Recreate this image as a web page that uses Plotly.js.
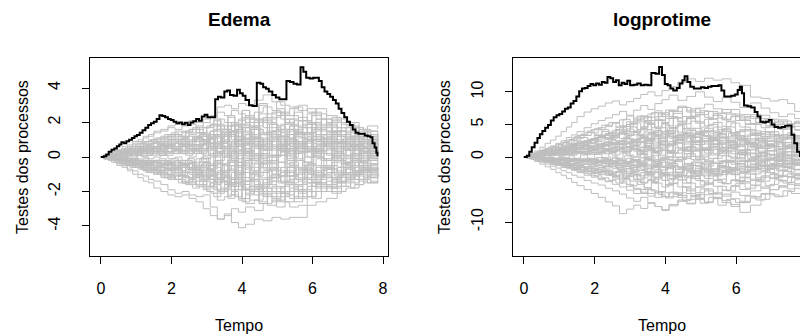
<!DOCTYPE html>
<html><head><meta charset="utf-8">
<script src="https://cdn.plot.ly/plotly-3.0.1.min.js"></script>
<style>html,body{margin:0;padding:0;overflow:hidden;background:#fff}#chart{width:844px;height:335px}</style>
</head><body><div id="chart"></div>
<script>
// ---------- data ----------
const panelTitles = ["Edema", "logprotime"];
const xTicks = [0, 2, 4, 6, 8];
const xTickTextLeft = ["0", "2", "4", "6", "8"];
const xTickTextRight = ["0", "2", "4", "6", ""];
const yTicksEdema = [-4, -2, 0, 2, 4];
const yTickTextEdema = ["-4", "-2", "0", "2", "4"];
const yTicksLogpro = [-10, -5, 0, 5, 10];
const yTickTextLogpro = ["-10", "", "0", "5", "10"];

// time grids of the simulated processes
const tgridA = [0,0.15,0.3,0.45,0.6,0.75,0.9,1.05,1.2,1.35,1.5,1.7,1.9,2.1,2.3,2.5,2.7,2.9,3.1,3.3,3.5,3.7,3.9,4.1,4.35,4.6,4.85,5.1,5.35,5.6,5.85,6.1,6.4,6.7,6.95,7.2,7.45,7.65,7.85];
const tgridB = [0,0.08,0.22,0.38,0.52,0.68,0.82,0.98,1.12,1.28,1.42,1.6,1.8,2.0,2.2,2.4,2.6,2.8,3.0,3.2,3.4,3.6,3.8,4.0,4.22,4.48,4.72,4.98,5.22,5.48,5.72,5.98,6.25,6.55,6.82,7.08,7.32,7.56,7.85];
const tgridC = [0,0.11,0.26,0.41,0.57,0.72,0.87,1.02,1.16,1.31,1.46,1.65,1.85,2.05,2.25,2.45,2.65,2.85,3.05,3.25,3.45,3.65,3.85,4.05,4.28,4.53,4.78,5.03,5.28,5.53,5.78,6.03,6.32,6.62,6.88,7.14,7.38,7.6,7.85];

// observed process, Edema
const edemaObsT = [0,0.08,0.15,0.22,0.30,0.38,0.45,0.52,0.58,0.65,0.72,0.80,0.88,0.95,1.02,1.10,1.18,1.26,1.34,1.42,1.50,1.58,1.66,1.74,1.82,1.90,1.98,2.06,2.14,2.22,2.30,2.38,2.46,2.54,2.62,2.70,2.78,2.86,2.94,3.02,3.10,3.24,3.32,3.40,3.50,3.58,3.66,3.76,3.86,3.94,4.02,4.10,4.20,4.30,4.42,4.52,4.60,4.68,4.76,4.86,4.96,5.06,5.16,5.26,5.36,5.46,5.56,5.66,5.74,5.82,5.92,6.02,6.10,6.18,6.26,6.34,6.42,6.50,6.58,6.66,6.74,6.82,6.90,6.98,7.06,7.14,7.22,7.30,7.40,7.48,7.56,7.64,7.70,7.76,7.81,7.84];
const edemaObsV = [0,0.05,0.15,0.30,0.42,0.50,0.62,0.72,0.85,0.80,0.92,1.00,1.10,1.20,1.28,1.40,1.55,1.70,1.85,1.95,2.05,2.20,2.42,2.38,2.30,2.20,2.15,2.05,1.95,2.00,1.90,1.98,1.85,2.00,2.08,2.20,2.10,2.35,2.45,2.30,2.30,3.35,3.50,3.45,3.80,3.85,3.60,3.55,3.90,3.70,3.55,3.30,3.00,2.95,4.30,4.25,4.05,3.95,3.80,3.60,3.45,3.35,3.35,4.40,4.35,4.25,4.20,5.20,4.95,4.60,4.55,4.60,4.60,4.40,4.05,3.80,3.65,3.50,3.30,3.10,2.80,2.55,2.30,2.05,1.85,1.60,1.40,1.35,1.35,1.25,1.20,1.15,0.80,0.55,0.25,0.05];

// simulated processes, Edema (on tgridA)
const edemaSimsA = [
[0,0.1,0.3,0.4,0.6,0.7,0.9,1.0,1.2,1.3,1.5,1.6,1.8,1.9,2.0,2.1,2.0,2.2,2.4,2.9,3.0,2.8,3.1,3.0,3.3,3.6,3.2,3.0,2.9,2.7,2.8,2.5,2.2,2.0,1.8,1.7,1.6,1.5,1.5],
[0,-0.1,-0.3,-0.5,-0.6,-0.8,-1.0,-1.2,-1.4,-1.5,-1.8,-2.0,-2.2,-2.3,-2.2,-2.4,-2.6,-3.0,-3.4,-3.6,-3.3,-3.8,-4.1,-3.9,-3.6,-3.7,-3.5,-3.6,-3.5,-3.5,-2.8,-2.6,-2.4,-2.0,-1.8,-1.6,-1.5,-1.4,-1.4],
[0,-0.1,-0.2,-0.4,-0.5,-0.7,-0.8,-1.0,-1.1,-1.3,-1.4,-1.6,-1.9,-2.1,-2.0,-2.2,-2.3,-2.2,-2.9,-3.6,-3.4,-3.0,-3.2,-2.9,-3.1,-2.7,-2.5,-2.6,-2.9,-2.8,-2.3,-2.0,-1.6,-1.2,-1.0,-0.8,-0.9,-0.7,-0.6],
[0,0.1,0.2,0.4,0.5,0.6,0.8,0.9,1.1,1.2,1.4,1.5,1.7,1.6,1.8,1.9,1.7,2.0,2.3,2.6,2.4,2.7,2.5,2.2,2.6,2.9,2.7,2.5,2.8,3.0,2.6,2.2,2.0,1.7,1.4,1.2,1.0,1.1,0.9],
[0,0.0,0.1,0.2,0.3,0.5,0.5,0.6,0.8,0.9,1.0,1.2,1.3,1.5,1.4,1.6,1.8,1.7,1.9,2.2,2.0,1.8,2.1,2.4,2.2,2.0,2.3,2.6,2.4,2.1,2.5,2.8,2.4,2.2,2.0,1.7,1.5,1.3,1.2],
[0,0.0,-0.1,-0.1,-0.2,-0.3,-0.4,-0.6,-0.5,-0.7,-0.8,-1.0,-1.1,-1.3,-1.5,-1.4,-1.7,-1.9,-2.1,-2.5,-2.3,-2.0,-2.4,-2.7,-2.5,-2.2,-2.4,-2.0,-1.8,-2.1,-1.7,-1.5,-1.8,-1.4,-1.2,-1.3,-1.1,-1.0,-1.2],
[0,0.1,0.1,0.2,0.3,0.3,0.4,0.5,0.6,0.6,0.8,0.9,1.0,1.2,1.1,1.3,1.4,1.2,1.5,1.8,1.6,1.9,2.2,1.8,2.1,1.7,1.5,1.9,2.2,1.8,2.0,1.6,1.3,1.5,1.1,0.9,0.7,0.8,0.6],
[0,-0.1,-0.1,-0.2,-0.3,-0.4,-0.5,-0.5,-0.7,-0.8,-0.9,-1.1,-1.2,-1.3,-1.2,-1.5,-1.6,-1.4,-1.8,-2.1,-1.9,-2.2,-2.5,-2.1,-1.8,-2.0,-2.3,-2.1,-1.6,-1.9,-1.5,-1.8,-1.4,-1.1,-1.3,-1.0,-0.8,-0.9,-0.7],
[0,0.0,0.1,0.1,0.2,0.2,0.3,0.2,0.4,0.5,0.4,0.6,0.7,0.6,0.8,0.9,0.7,1.0,1.3,1.1,1.4,1.2,0.9,1.3,1.6,1.4,1.1,1.5,1.8,1.4,1.7,1.3,1.0,1.2,0.9,0.7,0.9,0.6,0.5],
[0,0.0,-0.1,-0.1,-0.1,-0.2,-0.2,-0.3,-0.3,-0.4,-0.5,-0.4,-0.6,-0.7,-0.6,-0.8,-0.9,-0.7,-1.0,-1.3,-1.1,-1.5,-1.2,-0.9,-1.3,-1.6,-1.4,-1.1,-1.5,-1.2,-0.8,-1.1,-0.7,-0.9,-0.6,-0.8,-0.5,-0.7,-0.6],
[0,0.1,0.1,0.2,0.2,0.3,0.4,0.4,0.5,0.6,0.5,0.7,0.8,0.9,0.7,0.9,1.1,1.0,0.8,1.2,0.9,0.6,1.0,1.3,0.9,0.6,0.9,1.2,0.8,0.5,1.0,1.3,0.9,0.6,0.8,0.5,0.3,0.4,0.2],
[0,-0.1,-0.1,-0.2,-0.2,-0.3,-0.3,-0.4,-0.5,-0.4,-0.6,-0.7,-0.8,-0.7,-0.9,-1.0,-0.8,-1.1,-1.3,-1.0,-1.4,-1.7,-1.4,-1.9,-2.2,-1.8,-2.0,-1.7,-2.0,-1.6,-1.3,-1.5,-1.2,-1.5,-1.3,-1.1,-1.3,-1.2,-1.0],
[0,0.0,0.1,0.1,0.2,0.1,0.2,0.3,0.3,0.2,0.3,0.4,0.3,0.5,0.6,0.4,0.6,0.8,0.5,0.2,0.5,0.8,0.4,0.1,0.5,0.8,0.4,0.7,1.0,0.7,0.3,0.6,0.9,0.5,0.7,0.4,0.6,0.3,0.4],
[0,0.0,0.0,-0.1,0.0,-0.1,-0.1,-0.2,-0.1,-0.2,-0.3,-0.2,-0.4,-0.3,-0.5,-0.4,-0.6,-0.3,-0.7,-0.4,-0.8,-0.5,-0.9,-0.6,-0.3,-0.7,-1.0,-0.6,-0.3,-0.7,-0.4,-0.1,-0.5,-0.2,-0.5,-0.3,-0.6,-0.4,-0.5],
[0,0.1,0.2,0.3,0.4,0.5,0.7,0.8,0.9,1.0,1.1,1.0,1.2,1.3,1.2,1.4,1.6,1.3,1.5,1.9,1.6,2.0,1.7,1.4,1.8,2.1,1.7,1.4,1.8,1.4,1.9,2.2,1.8,1.5,1.7,1.3,1.4,1.2,1.0],
[0,-0.1,-0.2,-0.3,-0.3,-0.5,-0.6,-0.7,-0.8,-0.9,-1.0,-1.2,-1.3,-1.1,-1.4,-1.6,-1.4,-1.7,-1.5,-1.2,-1.6,-1.9,-1.5,-1.2,-1.7,-1.3,-1.0,-1.4,-1.1,-0.7,-1.0,-0.6,-0.9,-0.6,-0.3,-0.5,-0.2,-0.4,-0.3],
[0,0.0,0.1,0.1,0.1,0.2,0.2,0.3,0.2,0.4,0.5,0.3,0.5,0.4,0.2,0.4,0.3,0.1,0.4,0.7,0.3,0.0,0.4,0.7,1.0,0.6,0.9,0.5,0.2,0.6,1.0,0.7,1.1,0.8,1.0,0.7,0.9,0.8,0.7],
[0,0.0,-0.1,-0.1,-0.2,-0.2,-0.3,-0.2,-0.4,-0.3,-0.5,-0.6,-0.4,-0.7,-0.9,-0.7,-1.0,-1.2,-0.9,-1.3,-1.6,-1.3,-1.0,-1.4,-1.1,-0.8,-1.2,-1.5,-1.1,-1.4,-1.0,-1.3,-0.9,-0.6,-0.9,-0.6,-0.8,-0.6,-0.8],
[0,0.1,0.1,0.2,0.3,0.4,0.3,0.5,0.6,0.7,0.6,0.8,1.0,0.9,1.1,1.0,1.2,1.4,1.1,0.8,1.2,1.5,1.1,0.8,1.1,0.7,1.0,0.7,0.4,0.8,0.4,0.7,0.4,0.1,0.4,0.1,0.3,0.0,0.1],
[0,0.0,0.0,0.1,0.0,0.1,0.0,0.1,0.0,-0.1,0.0,0.1,-0.1,0.0,-0.2,0.0,0.2,-0.1,0.2,0.5,0.2,-0.2,0.1,0.4,0.1,-0.3,0.1,0.4,0.0,0.3,0.6,0.3,0.5,0.2,0.4,0.2,0.3,0.1,0.2],
[0,-0.1,-0.1,-0.2,-0.3,-0.3,-0.4,-0.5,-0.6,-0.6,-0.7,-0.9,-1.0,-0.9,-1.1,-1.3,-1.1,-1.4,-1.7,-2.0,-1.8,-1.5,-1.9,-2.2,-1.9,-2.3,-2.6,-2.3,-2.0,-2.4,-2.0,-1.6,-2.0,-1.7,-1.4,-1.6,-1.3,-1.5,-1.4],
[0,0.1,0.2,0.3,0.3,0.4,0.5,0.6,0.7,0.8,0.9,1.1,1.2,1.3,1.5,1.6,1.4,1.7,1.9,1.6,1.8,1.5,1.8,2.0,1.6,1.3,1.5,1.2,1.5,1.1,1.4,1.1,1.4,1.2,0.9,1.1,0.8,1.0,0.8],
[0,0.0,-0.1,-0.2,-0.3,-0.3,-0.4,-0.4,-0.5,-0.6,-0.7,-0.8,-0.7,-0.9,-1.1,-1.2,-1.0,-1.3,-1.1,-0.8,-1.2,-0.9,-0.5,-0.9,-0.6,-0.2,-0.6,-0.9,-0.5,-0.8,-0.4,-0.8,-0.5,-0.8,-1.1,-0.8,-1.0,-0.8,-0.9],
[0,0.0,0.1,0.1,0.2,0.3,0.3,0.4,0.5,0.5,0.6,0.5,0.7,0.8,1.0,0.9,1.1,0.9,1.2,1.5,1.2,1.5,1.9,2.3,2.0,2.3,2.6,2.2,1.9,2.3,1.9,1.6,1.9,1.5,1.2,1.0,1.2,1.0,1.1],
[0,0.0,0.0,-0.1,-0.1,-0.2,-0.1,-0.2,-0.3,-0.2,-0.3,-0.4,-0.3,-0.5,-0.4,-0.6,-0.8,-0.6,-0.9,-1.2,-1.5,-1.2,-1.6,-1.9,-1.6,-2.0,-1.7,-2.1,-2.4,-2.0,-2.3,-2.0,-1.7,-1.4,-1.2,-1.0,-1.2,-1.0,-1.1],
[0,0.1,0.1,0.1,0.2,0.2,0.3,0.3,0.4,0.3,0.5,0.6,0.5,0.4,0.6,0.7,0.5,0.8,0.6,0.3,0.6,0.9,1.2,0.9,0.6,0.9,1.3,1.6,1.3,1.7,1.4,1.8,1.5,1.2,0.9,0.7,0.5,0.6,0.4],
[0,-0.1,-0.1,-0.2,-0.2,-0.3,-0.4,-0.5,-0.4,-0.5,-0.6,-0.5,-0.7,-0.6,-0.4,-0.6,-0.5,-0.3,-0.5,-0.2,0.1,-0.2,-0.5,-0.2,0.1,0.4,0.0,0.3,0.6,0.3,0.0,0.4,0.1,-0.2,0.1,-0.1,0.1,-0.1,0.0],
[0,0.1,0.1,0.2,0.2,0.3,0.3,0.4,0.5,0.4,0.6,0.7,0.6,0.8,0.7,0.9,1.1,0.9,0.6,0.9,1.2,1.0,0.7,1.0,0.7,0.4,0.7,0.3,0.6,0.9,0.5,0.2,0.5,0.8,0.6,0.4,0.6,0.5,0.3],
[0,0.0,-0.1,-0.1,-0.2,-0.1,-0.2,-0.3,-0.2,-0.3,-0.2,-0.4,-0.3,-0.2,-0.4,-0.3,-0.1,-0.3,0.0,0.3,0.0,0.3,0.6,0.3,0.7,1.0,0.6,0.9,0.5,0.8,1.2,0.9,1.2,0.9,0.6,0.8,0.5,0.7,0.5],
[0,-0.1,-0.2,-0.2,-0.4,-0.5,-0.6,-0.6,-0.8,-0.9,-1.0,-0.9,-1.1,-1.3,-1.5,-1.3,-1.6,-1.8,-1.5,-1.9,-1.6,-1.3,-1.7,-1.4,-1.8,-1.5,-1.2,-0.9,-1.3,-0.9,-1.3,-1.0,-0.7,-1.0,-0.7,-0.5,-0.7,-0.5,-0.4]
];

// simulated processes, Edema (on tgridB)
const edemaSimsB = [
[0,0.1,0.2,0.2,0.4,0.5,0.4,0.6,0.7,0.6,0.8,0.9,0.7,1.0,1.2,0.9,1.1,1.4,1.1,1.8,1.3,2.0,1.5,2.3,1.7,2.5,1.9,2.6,2.0,1.4,2.1,1.6,2.2,1.5,1.9,1.2,1.6,1.0,1.3],
[0,-0.1,-0.1,-0.3,-0.2,-0.4,-0.5,-0.4,-0.6,-0.7,-0.5,-0.8,-1.0,-0.8,-1.1,-0.9,-1.2,-0.9,-1.3,-0.6,-1.4,-0.7,-1.5,-0.5,-1.3,-0.4,-1.2,-0.3,-1.1,-0.2,-0.9,-1.5,-0.6,-1.2,-0.4,-0.9,-0.3,-0.7,-0.5],
[0,0.0,0.1,0.0,0.2,0.1,0.3,0.2,0.4,0.3,0.5,0.3,0.6,0.4,0.7,0.5,0.3,0.8,0.4,1.2,0.5,1.3,0.2,1.1,-0.2,0.9,-0.3,1.0,0.1,1.4,0.3,1.5,0.6,1.3,0.4,1.1,0.2,0.8,0.5],
[0,-0.1,0.0,-0.2,-0.1,-0.3,-0.2,-0.4,-0.3,-0.5,-0.3,-0.6,-0.4,-0.7,-0.5,-0.9,-0.6,-1.1,-0.7,-1.6,-0.8,-1.7,-0.9,-1.9,-1.0,-2.1,-1.2,-1.8,-0.8,-1.6,-0.6,-1.4,-0.5,-1.2,-0.4,-1.0,-0.3,-0.8,-0.6],
[0,0.1,0.2,0.3,0.3,0.5,0.6,0.5,0.8,0.9,1.0,0.8,1.1,1.3,1.0,1.4,1.6,1.2,1.7,2.1,1.4,2.3,1.6,2.7,1.8,3.1,2.0,2.8,1.9,2.6,1.7,2.4,1.5,2.1,1.3,1.8,1.1,1.5,1.2],
[0,0.0,-0.1,-0.1,-0.2,-0.2,-0.3,-0.2,-0.4,-0.3,-0.5,-0.4,-0.2,-0.5,-0.3,-0.6,-0.4,-0.1,-0.5,0.3,-0.4,0.5,-0.3,0.7,-0.1,0.9,0.0,1.1,0.2,1.3,0.3,1.0,-0.2,0.8,-0.1,0.6,-0.3,0.4,0.1],
[0,0.1,0.1,0.2,0.3,0.2,0.4,0.5,0.4,0.6,0.5,0.7,0.9,0.6,1.0,0.8,1.2,0.9,1.3,0.7,1.6,0.9,1.9,1.1,2.2,1.3,2.5,1.6,2.2,1.2,1.9,1.0,1.7,0.8,1.5,0.7,1.2,0.6,0.9],
[0,-0.1,-0.2,-0.2,-0.4,-0.5,-0.6,-0.5,-0.7,-0.9,-0.8,-1.0,-1.2,-1.0,-1.3,-1.5,-1.2,-1.6,-1.3,-1.9,-1.4,-2.2,-1.5,-2.4,-1.7,-2.6,-1.8,-2.5,-1.6,-2.3,-1.5,-2.0,-1.2,-1.8,-1.0,-1.5,-0.8,-1.2,-1.0],
[0,0.0,0.1,0.1,0.1,0.2,0.1,0.3,0.2,0.4,0.2,0.5,0.3,0.6,0.2,0.7,0.4,0.9,0.5,1.3,0.6,1.5,0.8,1.7,0.9,2.0,1.1,1.8,0.9,1.6,0.6,1.9,0.8,1.5,0.5,1.2,0.4,0.9,0.7],
[0,0.0,-0.1,0.0,-0.1,-0.2,-0.1,-0.3,-0.2,-0.4,-0.2,-0.5,-0.3,-0.1,-0.4,-0.2,-0.5,-0.3,-0.7,-0.2,-0.9,-0.3,-1.1,-0.4,-1.3,-0.6,-1.6,-0.8,-1.4,-0.6,-1.2,-0.5,-1.0,-0.3,-0.9,-0.2,-0.7,-0.4,-0.3],
[0,0.1,0.2,0.2,0.3,0.4,0.5,0.6,0.5,0.7,0.8,0.7,0.9,1.1,0.9,1.2,1.0,1.3,1.1,1.6,1.0,1.8,1.2,1.9,1.3,2.2,1.4,2.4,1.6,2.1,1.3,2.0,1.1,1.7,1.0,1.5,0.8,1.3,1.0],
[0,-0.1,-0.1,-0.2,-0.3,-0.3,-0.4,-0.5,-0.6,-0.5,-0.7,-0.8,-0.7,-0.9,-1.1,-1.2,-1.0,-1.4,-1.7,-1.3,-2.0,-1.5,-2.3,-1.6,-2.5,-1.8,-2.8,-2.0,-2.6,-1.7,-2.3,-1.5,-2.0,-1.3,-1.7,-1.1,-1.4,-0.9,-1.2],
[0,0.0,0.0,0.1,0.1,0.0,0.2,0.1,0.3,0.2,0.1,0.3,0.2,0.4,0.3,0.1,0.4,0.2,0.6,0.0,0.8,0.1,1.0,0.2,1.2,0.4,1.5,0.6,1.3,0.4,1.1,0.3,0.9,0.1,0.8,0.0,0.6,0.2,0.3],
[0,-0.1,-0.1,-0.2,-0.1,-0.3,-0.2,-0.4,-0.5,-0.4,-0.6,-0.5,-0.7,-0.6,-0.8,-0.7,-0.9,-0.6,-1.0,-0.4,-1.1,-0.5,-1.2,-0.3,-1.0,-0.1,-0.8,0.1,-0.6,0.3,-0.5,0.2,-0.7,0.0,-0.6,-0.1,-0.5,-0.2,-0.3],
[0,0.1,0.2,0.3,0.4,0.5,0.5,0.7,0.8,0.9,1.0,1.1,1.3,1.4,1.2,1.5,1.7,1.4,1.8,2.2,1.6,2.4,1.8,2.7,2.0,3.0,2.2,3.2,2.4,2.9,2.1,2.6,1.9,2.3,1.7,2.0,1.5,1.8,1.6],
[0,0.0,-0.1,-0.2,-0.2,-0.3,-0.4,-0.4,-0.5,-0.6,-0.7,-0.6,-0.8,-0.9,-1.0,-0.9,-1.1,-1.3,-1.1,-1.4,-1.0,-1.6,-1.2,-1.8,-1.3,-2.0,-1.4,-2.1,-1.5,-1.9,-1.3,-1.7,-1.1,-1.5,-1.0,-1.3,-0.9,-1.1,-0.8],
[0,0.1,0.1,0.1,0.2,0.3,0.2,0.3,0.4,0.3,0.5,0.4,0.6,0.5,0.7,0.6,0.9,0.7,1.0,0.5,1.2,0.6,1.4,0.8,1.6,0.7,1.3,0.5,1.1,0.2,0.9,0.1,0.7,0.0,0.5,-0.1,0.3,0.0,0.2],
[0,0.0,-0.1,-0.1,-0.2,-0.1,-0.3,-0.2,-0.3,-0.4,-0.3,-0.5,-0.4,-0.6,-0.5,-0.4,-0.7,-0.5,-0.8,-0.3,-0.9,-0.2,-1.0,0.0,-0.8,0.2,-0.6,0.4,-0.4,0.6,-0.3,0.5,-0.2,0.4,-0.3,0.2,-0.2,0.1,0.0],
[0,0.1,0.1,0.2,0.2,0.3,0.4,0.3,0.5,0.4,0.6,0.7,0.5,0.8,0.6,0.9,0.7,1.0,0.8,1.3,0.9,1.5,1.0,1.7,1.1,1.4,0.9,1.2,0.7,1.5,0.8,1.7,1.0,1.4,0.8,1.2,0.6,1.0,0.8],
[0,-0.1,-0.2,-0.3,-0.3,-0.4,-0.5,-0.6,-0.7,-0.8,-0.9,-1.0,-1.2,-1.3,-1.5,-1.6,-1.8,-1.6,-2.0,-2.3,-1.8,-2.4,-1.9,-2.6,-2.0,-2.7,-2.1,-2.9,-2.2,-2.6,-1.9,-2.4,-1.7,-2.1,-1.5,-1.8,-1.3,-1.5,-1.2]
];

// simulated processes, Edema (on tgridC)
const edemaSimsC = [
[0,0.0,0.1,0.1,0.2,0.1,0.2,0.3,0.2,0.3,0.4,0.3,0.5,0.4,0.6,0.5,0.7,0.4,0.8,0.3,0.9,0.4,1.0,0.3,0.8,0.2,0.9,0.4,1.1,0.5,0.9,0.3,0.7,0.2,0.6,0.1,0.5,0.2,0.4],
[0,0.0,-0.1,0.0,-0.1,-0.2,-0.1,-0.2,-0.3,-0.2,-0.4,-0.3,-0.5,-0.4,-0.6,-0.3,-0.7,-0.4,-0.8,-0.2,-0.9,-0.3,-1.0,-0.1,-0.8,0.0,-0.7,0.1,-0.9,-0.2,-0.7,0.0,-0.5,-0.1,-0.6,-0.2,-0.4,-0.1,-0.3],
[0,0.1,0.1,0.2,0.2,0.3,0.3,0.4,0.4,0.5,0.6,0.5,0.7,0.6,0.8,0.7,0.9,1.0,0.8,1.2,0.9,1.4,1.0,1.5,1.1,1.3,0.9,1.2,0.8,1.4,1.0,1.2,0.8,1.0,0.7,0.9,0.6,0.8,0.7],
[0,-0.1,-0.1,-0.2,-0.2,-0.3,-0.3,-0.4,-0.4,-0.5,-0.5,-0.6,-0.7,-0.6,-0.8,-0.9,-0.7,-1.0,-0.8,-1.2,-0.9,-1.3,-0.8,-1.4,-0.9,-1.2,-0.7,-1.1,-0.6,-1.0,-0.5,-0.9,-0.6,-1.0,-0.7,-0.9,-0.6,-0.8,-0.7],
[0,0.0,0.0,0.1,0.0,0.1,0.2,0.1,0.2,0.1,0.3,0.2,0.1,0.3,0.2,0.4,0.2,0.5,0.1,0.6,0.0,0.7,-0.1,0.8,0.0,0.9,0.1,0.6,-0.2,0.5,-0.3,0.4,-0.1,0.6,0.0,0.5,-0.1,0.3,0.0],
[0,0.0,-0.1,-0.1,0.0,-0.1,-0.2,-0.1,-0.2,-0.3,-0.2,-0.1,-0.3,-0.2,-0.4,-0.1,-0.3,0.0,-0.4,0.1,-0.5,0.2,-0.6,0.3,-0.4,0.5,-0.2,0.6,-0.1,0.7,0.0,0.5,-0.2,0.3,-0.3,0.2,-0.2,0.1,-0.1],
[0,0.1,0.2,0.2,0.3,0.4,0.5,0.5,0.6,0.7,0.8,0.9,0.8,1.0,1.1,0.9,1.2,1.0,1.3,0.8,1.5,0.9,1.6,1.0,1.7,1.1,1.9,1.2,1.6,0.9,1.4,0.8,1.3,0.7,1.1,0.6,1.0,0.7,0.8],
[0,-0.1,-0.2,-0.2,-0.3,-0.4,-0.5,-0.5,-0.6,-0.7,-0.8,-0.9,-1.0,-1.1,-0.9,-1.2,-1.0,-1.3,-1.1,-1.5,-1.2,-1.7,-1.3,-1.9,-1.4,-1.7,-1.1,-1.5,-0.9,-1.3,-0.8,-1.2,-0.7,-1.1,-0.6,-1.0,-0.7,-0.9,-0.8],
[0,0.0,0.1,0.0,0.1,0.2,0.1,0.2,0.1,0.2,0.3,0.1,0.3,0.2,0.4,0.2,0.5,0.3,0.6,0.2,0.4,-0.1,0.3,-0.2,0.2,-0.4,0.1,-0.3,0.3,-0.1,0.4,0.0,0.2,-0.2,0.1,-0.3,0.0,-0.2,-0.1],
[0,0.0,-0.1,0.0,-0.1,0.0,-0.1,0.1,0.0,0.1,0.2,0.1,0.3,0.2,0.4,0.3,0.5,0.4,0.7,0.5,0.8,0.4,0.9,0.5,1.1,0.6,1.2,0.7,1.0,0.5,0.9,0.4,0.8,0.3,0.6,0.2,0.5,0.3,0.4],
[0,-0.1,-0.1,-0.2,-0.1,-0.2,-0.3,-0.2,-0.3,-0.4,-0.3,-0.5,-0.4,-0.6,-0.5,-0.7,-0.6,-0.8,-0.5,-0.9,-0.4,-0.8,-0.3,-0.7,-0.2,-0.9,-0.4,-1.1,-0.6,-1.3,-0.7,-1.1,-0.5,-0.9,-0.4,-0.8,-0.5,-0.7,-0.6],
[0,0.1,0.1,0.2,0.3,0.2,0.3,0.4,0.3,0.4,0.5,0.4,0.6,0.5,0.3,0.6,0.4,0.7,0.5,0.2,0.6,0.3,0.7,0.2,0.6,0.1,0.5,0.8,0.4,0.9,0.5,1.0,0.6,0.8,0.4,0.6,0.3,0.5,0.3]
];

// observed process, logprotime
const logproObsT = [0.00,0.08,0.15,0.22,0.30,0.38,0.45,0.52,0.60,0.68,0.76,0.84,0.92,1.00,1.08,1.16,1.24,1.32,1.40,1.48,1.56,1.64,1.72,1.80,1.88,1.96,2.04,2.12,2.20,2.28,2.36,2.44,2.52,2.60,2.68,2.76,2.84,2.92,3.00,3.10,3.20,3.30,3.40,3.50,3.60,3.72,3.82,3.90,3.98,4.06,4.14,4.22,4.32,4.40,4.48,4.54,4.62,4.70,4.80,4.90,5.00,5.10,5.20,5.30,5.40,5.50,5.58,5.66,5.76,5.86,5.96,6.04,6.10,6.16,6.22,6.32,6.42,6.52,6.60,6.68,6.76,6.84,6.92,7.00,7.08,7.18,7.28,7.38,7.46,7.56,7.64,7.72,7.80];
const logproObsV = [0.00,0.20,0.80,1.50,2.20,2.90,3.50,4.00,4.50,4.90,5.60,6.10,6.40,6.60,7.00,7.40,7.60,8.20,8.60,9.30,10.10,10.50,10.60,10.90,11.20,11.00,11.30,11.10,11.50,11.40,12.30,12.10,11.50,11.80,11.00,11.40,11.20,11.70,11.00,11.10,11.30,11.00,11.10,11.00,12.90,12.80,13.80,12.60,11.20,11.00,10.50,10.20,10.60,11.30,11.80,12.40,11.50,10.80,10.50,10.50,10.70,10.60,10.80,10.90,10.90,11.00,10.20,9.30,9.30,9.40,9.60,10.30,10.80,9.80,7.90,7.80,7.60,6.90,6.20,5.40,5.30,5.40,5.70,5.00,4.60,4.50,4.60,4.80,4.85,3.40,2.10,0.80,0.00];

// simulated processes, logprotime (on tgridA)
const logproSimsA = [
[0,0.4,0.9,1.5,2.1,2.6,3.2,3.9,4.6,5.3,6.2,6.9,7.4,7.8,8.3,8.6,8.0,8.5,9.0,9.6,10.0,9.4,10.2,10.8,11.5,12.0,11.6,12.1,11.8,12.0,11.4,11.0,9.2,9.0,8.6,8.8,8.2,7.0,6.0],
[0,-0.3,-0.7,-1.1,-1.5,-1.9,-2.4,-2.8,-3.3,-3.9,-4.4,-5.0,-5.6,-6.2,-6.9,-7.5,-8.7,-8.0,-7.4,-7.9,-7.1,-7.6,-8.2,-7.5,-6.8,-7.2,-6.5,-6.9,-6.2,-6.7,-7.3,-8.5,-7.4,-6.5,-5.8,-6.0,-5.3,-4.8,-4.5],
[0,0.3,0.6,1.0,1.3,1.7,2.1,2.5,3.0,3.4,3.9,4.5,5.1,5.6,6.0,6.5,7.0,6.4,7.2,7.9,7.3,8.2,8.8,9.5,8.7,9.3,10.0,9.2,8.5,9.1,8.4,7.6,8.3,7.5,6.8,6.2,6.6,5.9,5.5],
[0,-0.2,-0.5,-0.8,-1.1,-1.4,-1.7,-2.1,-2.4,-2.8,-3.1,-3.6,-4.0,-4.3,-4.8,-5.2,-5.7,-6.3,-6.8,-6.2,-7.0,-7.6,-8.1,-7.3,-6.6,-7.1,-6.4,-5.8,-6.3,-5.7,-6.4,-7.0,-6.3,-5.7,-5.0,-4.6,-4.2,-4.4,-3.9],
[0,0.2,0.5,0.8,1.2,1.5,1.9,2.2,2.6,2.9,3.3,3.8,4.2,4.5,4.9,5.3,4.8,5.4,6.0,5.4,6.1,6.8,6.2,7.0,7.6,6.9,7.5,8.1,7.4,6.8,7.3,6.5,5.9,6.4,5.8,5.2,4.9,5.3,4.8],
[0,-0.2,-0.4,-0.6,-0.8,-1.1,-1.3,-1.6,-1.8,-2.1,-2.4,-2.8,-3.1,-3.5,-3.8,-3.4,-4.0,-4.5,-5.0,-5.6,-5.0,-5.5,-6.1,-5.4,-5.9,-6.5,-5.8,-5.2,-5.7,-5.1,-4.5,-5.0,-4.4,-4.8,-4.2,-3.7,-3.9,-3.5,-3.2],
[0,0.1,0.3,0.5,0.7,0.9,1.1,1.3,1.6,1.8,2.1,2.4,2.8,3.2,2.8,3.3,3.8,4.3,3.8,4.4,5.0,4.4,5.1,4.5,5.2,5.9,5.2,5.8,6.4,5.7,6.2,5.6,5.0,5.5,4.9,4.3,4.6,4.1,3.8],
[0,-0.1,-0.3,-0.5,-0.6,-0.8,-1.0,-1.2,-1.4,-1.6,-1.9,-2.1,-2.4,-2.7,-2.3,-2.8,-3.2,-2.8,-3.4,-3.9,-3.4,-4.0,-4.6,-4.0,-4.6,-5.2,-4.6,-4.0,-4.5,-5.1,-4.4,-3.8,-4.3,-3.7,-3.2,-3.6,-3.0,-3.3,-2.9],
[0,0.2,0.4,0.6,0.9,1.1,1.4,1.6,1.9,2.1,2.4,2.2,2.6,3.0,3.4,3.0,3.5,3.9,3.4,3.0,3.6,4.1,3.5,4.0,3.4,2.9,3.5,4.0,3.4,3.9,3.3,2.8,3.3,2.8,3.2,2.7,3.0,2.6,2.8],
[0,-0.1,-0.2,-0.3,-0.5,-0.6,-0.8,-0.9,-1.1,-1.0,-1.3,-1.5,-1.8,-1.6,-2.0,-2.3,-2.0,-2.5,-2.9,-2.4,-2.9,-3.4,-2.9,-2.4,-2.9,-2.3,-2.8,-3.3,-2.7,-2.2,-2.7,-3.2,-2.6,-2.1,-2.5,-2.0,-2.3,-1.9,-2.1],
[0,0.1,0.2,0.4,0.5,0.7,0.8,1.0,1.2,1.3,1.5,1.8,1.6,2.0,2.3,2.0,2.4,2.1,1.8,2.3,2.8,2.3,1.9,2.4,2.9,2.4,1.9,2.4,2.0,1.5,2.0,2.5,2.0,1.6,2.0,1.6,1.9,1.5,1.7],
[0,0.0,-0.1,-0.2,-0.3,-0.4,-0.4,-0.5,-0.7,-0.6,-0.8,-0.7,-1.0,-0.8,-1.2,-1.0,-1.4,-1.1,-0.8,-1.3,-1.7,-1.2,-0.8,-1.3,-1.8,-1.3,-0.9,-1.4,-1.0,-1.5,-2.0,-1.5,-1.1,-1.5,-1.2,-1.5,-1.1,-1.3,-1.2],
[0,0.1,0.3,0.4,0.6,0.8,1.0,1.2,1.3,1.6,1.8,2.1,2.5,2.9,3.3,3.7,4.2,4.7,5.2,4.6,5.2,5.8,5.1,4.5,5.0,4.4,3.9,4.4,3.8,4.3,3.7,3.2,3.7,3.2,2.8,3.2,2.8,3.1,2.7],
[0,0.0,0.1,0.1,0.2,0.3,0.3,0.4,0.3,0.5,0.6,0.4,0.7,0.5,0.8,1.1,0.8,1.2,0.9,0.5,1.0,1.4,1.0,0.6,1.1,1.5,1.0,1.4,1.9,1.4,1.9,2.3,1.8,1.3,1.7,1.3,1.6,1.2,1.4],
[0,-0.1,-0.3,-0.4,-0.6,-0.7,-0.9,-1.0,-1.2,-1.3,-1.5,-1.8,-2.0,-2.3,-2.6,-3.0,-3.4,-3.0,-3.5,-4.0,-3.6,-3.1,-3.6,-4.1,-3.5,-4.0,-4.6,-4.0,-3.5,-4.1,-3.6,-3.1,-3.6,-3.1,-2.7,-3.0,-2.6,-2.9,-2.6],
[0,0.2,0.3,0.5,0.7,0.8,1.0,1.3,1.5,1.7,2.0,2.3,2.7,3.1,2.7,3.2,2.8,3.3,3.8,4.3,3.8,3.3,3.9,4.4,3.8,3.3,3.8,3.2,3.7,4.3,3.7,4.2,3.6,3.1,3.5,3.0,3.3,2.9,3.1],
[0,-0.1,-0.1,-0.2,-0.2,-0.3,-0.2,-0.4,-0.3,-0.5,-0.4,-0.6,-0.4,-0.7,-0.5,-0.2,-0.5,-0.8,-0.4,-0.1,-0.5,-0.9,-0.4,0.0,-0.4,0.1,-0.3,-0.7,-0.2,0.2,-0.2,0.3,-0.1,-0.5,-0.1,0.3,0.0,0.2,0.0],
[0,0.1,0.2,0.3,0.4,0.5,0.7,0.8,0.9,1.0,1.2,1.4,1.3,1.6,1.9,2.2,1.9,2.3,2.7,3.2,2.7,3.2,3.7,3.1,2.6,3.1,2.5,2.0,2.5,2.0,1.5,2.0,1.5,2.0,1.6,1.2,1.5,1.1,1.3],
[0,-0.2,-0.3,-0.5,-0.7,-0.9,-1.0,-1.2,-1.4,-1.7,-1.9,-2.2,-2.5,-2.2,-2.6,-3.0,-2.6,-2.2,-2.7,-3.2,-2.7,-2.2,-2.7,-3.3,-2.8,-2.3,-1.8,-2.3,-2.9,-2.4,-1.9,-2.4,-1.9,-1.4,-1.8,-1.4,-1.7,-1.3,-1.5],
[0,0.1,0.3,0.5,0.6,0.8,1.0,1.2,1.5,1.8,2.0,2.4,2.8,3.2,3.6,4.1,4.5,5.0,5.5,6.0,6.6,7.1,6.5,7.2,7.8,7.1,6.5,7.0,6.4,5.8,6.3,5.7,5.1,4.5,4.9,4.3,4.6,4.2,4.5],
[0,0.0,-0.1,-0.1,-0.2,-0.2,-0.3,-0.3,-0.4,-0.3,-0.5,-0.4,-0.3,-0.6,-0.4,-0.7,-0.5,-0.2,-0.6,-1.0,-0.5,-1.0,-1.5,-1.0,-1.6,-2.1,-1.5,-2.0,-2.6,-2.1,-2.7,-2.2,-1.7,-2.1,-1.7,-2.1,-1.8,-2.0,-1.7],
[0,0.1,0.2,0.3,0.3,0.4,0.5,0.5,0.6,0.8,0.7,0.9,1.1,0.9,1.2,1.0,1.3,1.6,1.2,0.8,1.3,0.9,1.4,1.9,1.4,0.9,1.4,1.0,0.5,1.0,0.5,1.0,0.5,0.0,0.4,0.0,0.3,0.0,0.2],
[0,-0.1,-0.2,-0.4,-0.5,-0.6,-0.8,-1.0,-1.1,-1.3,-1.6,-1.8,-2.1,-2.4,-2.8,-3.2,-3.7,-4.2,-4.8,-5.4,-6.0,-5.4,-6.1,-5.5,-6.2,-5.6,-6.3,-7.0,-6.4,-7.0,-7.6,-6.8,-6.1,-5.6,-5.0,-4.6,-4.9,-4.3,-4.0],
[0,0.2,0.4,0.6,0.8,1.0,1.2,1.4,1.7,1.9,2.2,2.5,2.2,2.6,3.0,3.5,3.9,3.4,4.0,4.6,5.2,4.6,5.3,6.0,5.4,6.1,6.8,6.1,6.7,7.3,6.6,6.0,6.5,5.9,5.3,5.7,5.1,5.5,5.0],
[0,-0.1,-0.2,-0.3,-0.4,-0.5,-0.6,-0.8,-0.9,-1.0,-1.2,-1.1,-1.4,-1.7,-1.4,-1.8,-2.2,-1.8,-1.4,-1.9,-2.4,-1.9,-2.4,-2.9,-3.5,-3.0,-3.6,-4.2,-3.6,-4.1,-3.5,-4.0,-3.4,-2.9,-3.3,-2.8,-3.1,-2.7,-2.9],
[0,0.1,0.1,0.2,0.3,0.3,0.4,0.6,0.5,0.7,0.9,0.8,1.1,1.4,1.1,1.5,1.9,1.5,1.1,1.5,1.1,0.6,1.1,0.6,1.1,1.6,1.1,0.6,1.2,0.6,1.1,0.6,0.1,0.6,0.2,0.6,0.3,0.6,0.4],
[0,-0.1,-0.3,-0.5,-0.7,-0.9,-1.1,-1.4,-1.6,-1.9,-2.2,-2.5,-2.9,-3.3,-3.7,-4.2,-4.6,-5.1,-5.6,-5.0,-5.6,-6.2,-5.5,-6.1,-5.5,-4.9,-5.5,-4.9,-5.5,-6.0,-5.4,-5.9,-5.2,-4.6,-5.0,-4.4,-3.9,-4.1,-3.6],
[0,0.2,0.4,0.7,0.9,1.2,1.5,1.8,2.1,2.5,2.9,3.3,3.7,4.2,4.7,5.2,5.7,6.3,5.7,6.3,5.6,6.2,6.8,6.2,5.5,6.0,5.4,4.8,5.3,4.7,5.2,4.6,4.0,3.5,3.9,3.4,3.7,3.3,3.5],
[0,0.0,0.1,0.1,0.2,0.2,0.3,0.2,0.4,0.3,0.5,0.6,0.4,0.7,0.5,0.3,0.6,0.3,0.0,0.4,0.0,-0.4,0.0,-0.5,0.0,0.5,0.0,-0.5,-1.0,-0.5,-1.1,-0.6,-1.1,-0.6,-1.0,-0.6,-0.9,-0.6,-0.8],
[0,0.1,0.2,0.3,0.5,0.6,0.7,0.9,1.0,1.2,1.4,1.3,1.6,1.9,2.3,1.9,2.4,2.8,2.4,2.9,3.4,4.0,3.4,2.9,3.5,4.1,3.5,4.0,4.6,4.0,3.5,4.0,3.4,3.9,3.4,2.9,3.2,2.8,3.0]
];

// simulated processes, logprotime (on tgridB)
const logproSimsB = [
[0,0.3,0.6,0.9,1.2,1.5,1.4,1.9,2.2,2.0,2.6,3.0,2.6,3.4,3.9,3.2,4.2,3.6,4.6,3.5,5.2,3.8,5.6,4.0,6.0,4.3,5.5,3.7,5.0,3.2,4.6,2.9,4.2,2.6,3.8,2.3,3.4,2.1,2.8],
[0,-0.2,-0.4,-0.5,-0.8,-0.9,-1.2,-1.0,-1.5,-1.3,-1.8,-2.0,-1.7,-2.3,-2.0,-2.6,-2.2,-2.9,-2.4,-3.4,-2.3,-3.8,-2.5,-4.2,-2.8,-4.6,-3.0,-4.3,-2.6,-3.9,-2.3,-3.6,-2.0,-3.2,-1.8,-2.9,-1.6,-2.5,-2.0],
[0,0.1,0.3,0.2,0.5,0.4,0.7,0.6,0.9,0.8,1.2,0.9,1.4,1.1,1.7,1.3,2.0,1.4,2.3,1.0,2.6,0.8,2.9,0.6,3.2,0.9,3.5,1.2,3.0,0.9,2.6,0.5,2.3,0.2,1.9,0.0,1.6,0.3,1.0],
[0,-0.1,-0.2,-0.1,-0.4,-0.3,-0.6,-0.5,-0.8,-0.6,-1.0,-0.7,-1.2,-0.9,-1.4,-1.0,-1.7,-1.2,-2.0,-0.9,-2.3,-1.1,-2.6,-1.2,-3.0,-1.5,-3.3,-1.7,-2.9,-1.3,-2.5,-1.0,-2.2,-0.8,-1.9,-0.6,-1.6,-0.9,-1.2],
[0,0.2,0.5,0.8,1.0,1.3,1.6,1.9,2.3,2.6,3.0,3.4,3.8,3.3,4.2,3.7,4.6,4.0,5.1,4.2,5.6,4.5,6.2,4.8,6.7,5.1,6.2,4.6,5.8,4.2,5.4,3.9,5.0,3.6,4.6,3.3,4.3,3.1,3.6],
[0,0.0,-0.1,0.1,-0.2,0.0,-0.3,0.1,-0.2,0.2,-0.3,0.3,-0.2,0.4,-0.1,0.6,-0.2,0.8,0.0,1.1,-0.3,1.4,-0.5,1.7,-0.7,2.0,-0.4,2.3,-0.2,2.0,-0.5,1.7,-0.7,1.4,-0.4,1.1,-0.6,0.8,0.2],
[0,0.2,0.4,0.6,0.8,0.7,1.0,1.3,1.1,1.5,1.8,1.6,2.1,2.4,2.0,2.7,2.3,3.0,2.5,3.4,2.6,3.7,2.8,4.1,3.0,4.4,3.2,4.0,2.8,3.6,2.5,3.3,2.2,2.9,2.0,2.6,1.8,2.3,2.0],
[0,-0.2,-0.3,-0.5,-0.7,-0.9,-1.1,-1.3,-1.5,-1.7,-2.0,-2.3,-2.6,-2.9,-3.2,-3.6,-4.0,-3.5,-4.4,-3.8,-4.9,-4.0,-5.3,-4.3,-5.7,-4.6,-6.1,-4.9,-5.6,-4.5,-5.2,-4.1,-4.8,-3.8,-4.4,-3.5,-4.0,-3.2,-3.6],
[0,0.1,0.2,0.2,0.4,0.3,0.5,0.4,0.7,0.5,0.8,0.6,1.0,0.7,1.2,0.8,1.4,0.6,1.6,0.4,1.8,0.2,2.0,0.0,2.2,-0.2,1.9,-0.4,1.6,-0.6,1.4,-0.3,1.2,-0.5,1.0,-0.2,0.8,-0.4,0.3],
[0,-0.1,-0.1,-0.3,-0.2,-0.4,-0.5,-0.4,-0.7,-0.6,-0.9,-1.1,-0.8,-1.3,-1.0,-1.5,-1.2,-1.8,-1.3,-2.1,-1.2,-2.4,-1.4,-2.7,-1.5,-2.9,-1.3,-2.6,-1.0,-2.3,-0.8,-2.0,-0.6,-1.8,-0.5,-1.5,-0.3,-1.2,-0.8],
[0,0.2,0.4,0.7,1.0,1.3,1.6,2.0,2.3,2.7,3.1,3.5,4.0,4.4,4.9,5.3,4.6,5.8,5.1,6.3,5.4,6.8,5.7,7.2,6.0,7.6,6.3,7.1,5.9,6.7,5.5,6.3,5.1,5.9,4.8,5.5,4.5,5.1,4.8],
[0,0.0,-0.1,-0.1,-0.2,-0.1,-0.3,-0.2,-0.1,-0.3,-0.2,-0.4,-0.3,-0.5,-0.2,-0.6,-0.3,-0.8,-0.4,-1.1,-0.3,-1.4,-0.5,-1.7,-0.6,-2.0,-0.8,-2.3,-1.0,-2.0,-0.7,-1.8,-0.5,-1.5,-0.3,-1.3,-0.6,-1.0,-0.8],
[0,0.1,0.2,0.4,0.5,0.7,0.8,1.0,1.1,1.3,1.5,1.7,1.5,1.9,1.7,2.1,1.9,2.4,2.0,2.8,2.1,3.1,2.3,3.4,2.5,3.1,2.2,2.8,1.9,2.5,1.7,2.9,2.0,2.6,1.8,2.3,1.6,2.0,1.7],
[0,-0.1,-0.3,-0.4,-0.6,-0.8,-0.9,-1.1,-1.3,-1.5,-1.7,-1.9,-2.2,-2.5,-2.2,-2.8,-2.4,-3.1,-2.6,-3.5,-2.7,-3.9,-2.9,-4.3,-3.1,-4.0,-2.8,-3.7,-2.5,-3.4,-2.2,-3.8,-2.6,-3.5,-2.4,-3.1,-2.2,-2.8,-2.5],
[0,0.1,0.1,0.2,0.3,0.2,0.4,0.5,0.4,0.6,0.7,0.5,0.8,0.6,0.9,0.7,1.1,0.8,1.3,0.6,1.6,0.7,1.9,0.9,2.2,1.0,2.5,1.2,2.8,1.4,3.1,1.6,2.8,1.3,2.5,1.1,2.2,1.4,1.8],
[0,-0.1,-0.2,-0.2,-0.3,-0.4,-0.3,-0.5,-0.4,-0.6,-0.5,-0.7,-0.6,-0.8,-0.5,-0.9,-0.6,-1.0,-0.5,-0.8,0.0,-0.6,0.3,-0.4,0.6,-0.2,0.9,0.0,1.2,0.2,0.9,-0.1,0.6,-0.3,0.4,-0.5,0.2,-0.3,0.0],
[0,0.2,0.3,0.5,0.7,0.9,1.1,1.3,1.6,1.8,2.1,2.4,2.7,3.0,3.4,3.8,4.2,4.7,5.2,5.7,6.2,5.6,6.6,5.9,7.0,6.2,7.4,6.5,7.0,6.0,6.6,5.6,6.2,5.3,5.8,5.0,5.5,4.7,5.0],
[0,-0.1,-0.2,-0.3,-0.5,-0.6,-0.7,-0.9,-1.0,-1.2,-1.4,-1.6,-1.8,-2.0,-2.3,-2.6,-2.9,-3.3,-3.7,-4.2,-4.7,-5.2,-5.8,-6.3,-5.7,-6.7,-5.9,-7.1,-6.2,-7.4,-6.5,-7.0,-6.0,-6.6,-5.6,-6.1,-5.2,-5.6,-4.8],
[0,0.1,0.2,0.3,0.3,0.5,0.6,0.7,0.8,1.0,0.9,1.2,1.1,1.4,1.3,1.7,1.5,2.0,1.6,2.4,1.7,2.8,1.9,3.2,2.1,3.6,2.4,3.9,2.7,3.5,2.4,3.1,2.1,2.8,1.8,2.4,1.6,2.1,1.4],
[0,0.0,-0.1,-0.2,-0.2,-0.3,-0.4,-0.5,-0.6,-0.7,-0.8,-0.9,-1.1,-1.2,-1.4,-1.2,-1.6,-1.4,-1.9,-1.5,-2.2,-1.6,-2.5,-1.8,-2.8,-2.0,-2.5,-1.7,-2.2,-1.4,-1.9,-1.1,-1.6,-0.9,-1.4,-0.7,-1.1,-0.5,-0.8]
];

// simulated processes, logprotime (on tgridC)
const logproSimsC = [
[0,0.1,0.3,0.4,0.6,0.5,0.8,1.0,0.9,1.2,1.4,1.2,1.6,1.4,1.8,1.5,2.0,1.6,2.3,1.5,2.6,1.7,2.9,1.8,2.6,1.5,2.3,1.2,2.5,1.4,2.2,1.1,1.9,0.9,1.6,0.8,1.4,0.9,1.1],
[0,-0.1,-0.2,-0.4,-0.5,-0.4,-0.7,-0.9,-0.8,-1.1,-1.3,-1.1,-1.5,-1.3,-1.7,-1.4,-1.9,-1.5,-2.2,-1.4,-2.5,-1.5,-2.8,-1.6,-2.4,-1.2,-2.1,-0.9,-1.8,-0.7,-1.6,-0.6,-1.4,-0.5,-1.2,-0.4,-1.0,-0.5,-0.8],
[0,0.2,0.4,0.6,0.8,1.0,1.2,1.4,1.6,1.8,2.1,2.4,2.7,3.0,3.3,2.9,3.6,3.2,3.9,3.3,4.2,3.4,4.5,3.6,4.8,3.8,4.4,3.3,4.0,3.0,3.7,2.7,3.4,2.4,3.1,2.2,2.8,2.0,2.4],
[0,-0.1,-0.1,-0.2,-0.3,-0.2,-0.4,-0.3,-0.5,-0.4,-0.6,-0.5,-0.7,-0.5,-0.8,-0.6,-1.0,-0.7,-1.2,-0.6,-1.4,-0.7,-1.6,-0.8,-1.9,-1.0,-2.2,-1.1,-1.9,-0.9,-1.7,-0.7,-1.5,-0.6,-1.3,-0.5,-1.1,-0.6,-0.9],
[0,0.1,0.1,0.2,0.3,0.3,0.5,0.4,0.6,0.5,0.8,0.6,1.0,0.7,1.2,0.8,1.5,0.9,1.8,0.8,2.1,0.9,2.4,1.0,2.7,1.2,3.0,1.4,2.6,1.1,2.3,0.9,2.0,0.7,1.7,0.6,1.5,0.7,1.2],
[0,0.0,-0.1,0.0,-0.2,-0.1,-0.3,-0.1,-0.4,-0.2,-0.5,-0.2,-0.6,-0.1,-0.7,0.0,-0.8,0.2,-0.6,0.4,-0.4,0.6,-0.2,0.8,-0.1,1.0,0.1,1.2,0.3,0.9,0.0,0.7,-0.2,0.5,-0.3,0.4,-0.2,0.3,0.0],
[0,0.1,0.2,0.3,0.4,0.6,0.7,0.9,1.0,1.2,1.4,1.6,1.8,2.0,2.2,2.5,2.1,2.8,2.3,3.1,2.4,3.4,2.5,3.7,2.6,3.4,2.3,3.1,2.0,2.8,1.8,2.5,1.6,2.2,1.4,2.0,1.3,1.8,1.5],
[0,-0.1,-0.2,-0.3,-0.4,-0.5,-0.7,-0.8,-1.0,-1.1,-1.3,-1.5,-1.7,-1.9,-2.1,-2.3,-2.0,-2.6,-2.2,-2.9,-2.3,-3.2,-2.4,-3.5,-2.6,-3.2,-2.3,-2.9,-2.0,-2.7,-1.8,-2.5,-1.6,-2.3,-1.5,-2.1,-1.4,-1.9,-1.6],
[0,0.1,0.2,0.2,0.3,0.4,0.4,0.5,0.6,0.5,0.7,0.8,0.6,0.9,1.0,0.8,1.1,0.9,1.3,0.9,1.5,0.8,1.7,0.7,1.4,0.5,1.2,0.3,1.5,0.6,1.3,0.4,1.1,0.2,0.9,0.1,0.8,0.2,0.5],
[0,-0.1,0.0,-0.2,-0.1,-0.3,-0.2,-0.4,-0.3,-0.5,-0.3,-0.6,-0.4,-0.7,-0.4,-0.8,-0.5,-0.9,-0.4,-1.1,-0.3,-1.3,-0.2,-1.5,-0.4,-1.7,-0.6,-1.9,-0.8,-1.6,-0.6,-1.4,-0.4,-1.2,-0.3,-1.0,-0.2,-0.9,-0.5],
[0,0.2,0.3,0.5,0.7,0.8,1.0,1.2,1.3,1.5,1.7,1.9,2.1,1.8,2.3,2.0,2.5,2.1,2.7,2.2,2.9,2.0,3.1,2.1,3.3,2.3,3.6,2.5,3.2,2.2,2.9,1.9,2.6,1.7,2.4,1.6,2.2,1.5,1.9],
[0,0.0,-0.1,-0.1,-0.2,-0.2,-0.3,-0.4,-0.4,-0.5,-0.6,-0.7,-0.8,-0.9,-1.0,-1.1,-1.3,-1.4,-1.6,-1.3,-1.8,-1.5,-2.0,-1.6,-2.3,-1.8,-2.6,-2.0,-2.3,-1.7,-2.1,-1.5,-1.9,-1.3,-1.7,-1.2,-1.5,-1.1,-1.3]
];

// ---------- chart ----------
const W = 844, H = 335;
const traces = [];
function addSims(sims, grid, xa, ya) {
  sims.forEach(s => traces.push({
    x: grid.slice(0, s.length), y: s, type: 'scatter', mode: 'lines',
    line: {shape: 'hv', color: '#BEBEBE', width: 1},
    xaxis: xa, yaxis: ya, hoverinfo: 'skip', showlegend: false
  }));
}
function addObs(t, v, xa, ya) {
  traces.push({
    x: t, y: v, type: 'scatter', mode: 'lines',
    line: {shape: 'hv', color: '#000000', width: 2},
    xaxis: xa, yaxis: ya, showlegend: false
  });
}
addSims(edemaSimsA, tgridA, 'x', 'y');
addSims(edemaSimsB, tgridB, 'x', 'y');
addSims(edemaSimsC, tgridC, 'x', 'y');
addObs(edemaObsT, edemaObsV, 'x', 'y');
addSims(logproSimsA, tgridA, 'x2', 'y2');
addSims(logproSimsB, tgridB, 'x2', 'y2');
addSims(logproSimsC, tgridC, 'x2', 'y2');
addObs(logproObsT, logproObsV, 'x2', 'y2');

const FONT = 'Liberation Sans, Arial, sans-serif';
const axisBase = {
  showline: true, mirror: true, linecolor: '#000', linewidth: 1,
  ticks: 'outside', ticklen: 7, tickwidth: 1, tickcolor: '#000',
  showgrid: false, zeroline: false, fixedrange: true,
  tickfont: {family: FONT, size: 16, color: '#000'}
};
const yDom = [(H - 256) / H, (H - 58) / H];
function ann(text, x, y, size, angle) {
  return {text: text, x: x / W, y: 1 - y / H, xref: 'paper', yref: 'paper', xanchor: 'center', yanchor: 'middle',
          showarrow: false, textangle: angle || 0, font: {family: FONT, size: size, color: '#000'}};
}
const layout = {
  width: W, height: H,
  margin: {l: 0, r: 0, t: 0, b: 0, pad: 0},
  paper_bgcolor: '#fff', plot_bgcolor: '#fff',
  showlegend: false,
  xaxis: Object.assign({}, axisBase, {domain: [90 / W, 388 / W], range: [-0.31, 8.14], tickvals: xTicks, ticktext: xTickTextLeft, anchor: 'y', ticklabelstandoff: 11}),
  yaxis: Object.assign({}, axisBase, {domain: yDom, range: [-5.74, 5.74], tickvals: yTicksEdema, ticktext: yTickTextEdema, tickangle: -90, anchor: 'x', ticklabelstandoff: 16}),
  xaxis2: Object.assign({}, axisBase, {domain: [513 / W, 812 / W], range: [-0.31, 8.14], tickvals: xTicks, ticktext: xTickTextRight, anchor: 'y2', ticklabelstandoff: 11}),
  yaxis2: Object.assign({}, axisBase, {domain: yDom, range: [-15.2, 15.2], tickvals: yTicksLogpro, ticktext: yTickTextLogpro, tickangle: -90, anchor: 'x2', ticklabelstandoff: 16}),
  annotations: [
    ann('<b>' + panelTitles[0] + '</b>', 239, 20, 19),
    ann('<b>' + panelTitles[1] + '</b>', 662, 20, 19),
    ann('Tempo', 239, 325, 16),
    ann('Tempo', 662, 325, 16),
    ann('Testes dos processos', 22, 157, 16, -90),
    ann('Testes dos processos', 444, 157, 16, -90)
  ]
};
Plotly.newPlot('chart', traces, layout, {staticPlot: true, displayModeBar: false, responsive: false});
</script>
</body></html>
